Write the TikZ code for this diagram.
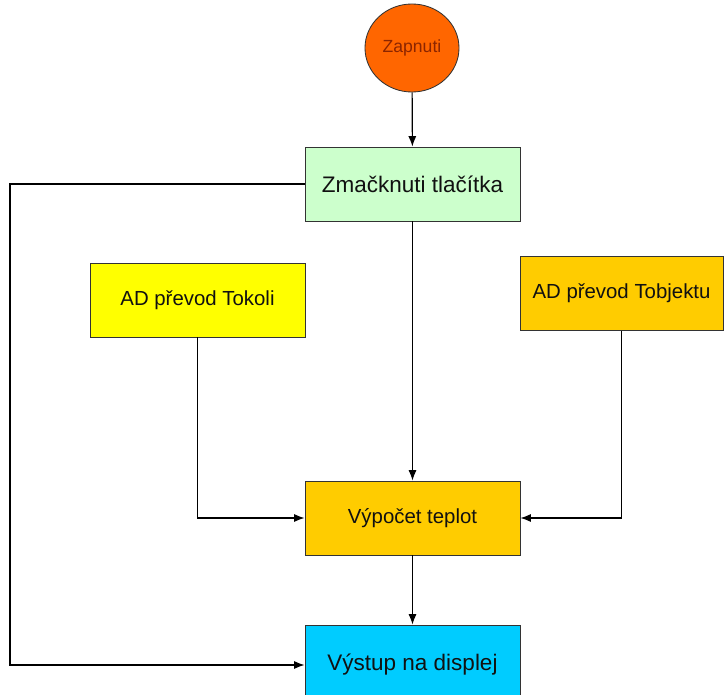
\documentclass[tikz,border=0pt]{standalone}
\usepackage{fontspec}
\setmainfont{Liberation Sans}
\usetikzlibrary{arrows.meta,shapes.geometric}
\definecolor{startred}{HTML}{FF6600}
\definecolor{starttext}{HTML}{8B2500}
\definecolor{pressgreen}{HTML}{CCFFCC}
\definecolor{adyellow}{HTML}{FFFF00}
\definecolor{calcorange}{HTML}{FFCC00}
\definecolor{displayblue}{HTML}{00CCFF}
\definecolor{textdark}{HTML}{111111}
\definecolor{linegray}{HTML}{333333}
\tikzset{
  >=Latex,
  startnode/.style={
    ellipse, draw=linegray, line width=0.6pt, fill=startred,
    minimum width=2.35cm, minimum height=2.2cm, inner sep=0pt,
    font=\fontsize{12.5}{15}\selectfont, text=starttext
  },
  block/.style={
    rectangle, draw=linegray, line width=0.6pt,
    minimum width=5.375cm, minimum height=1.85cm, align=center,
    font=\fontsize{16}{19}\selectfont, text=textdark
  },
  smallblock/.style={block, font=\fontsize{14.5}{17}\selectfont},
  arrow/.style={-{Latex[length=2.6mm,width=2mm]}, line width=0.8pt, draw=black}
}

\begin{document}
\begin{tikzpicture}[x=0.025cm,y=-0.025cm]
\useasboundingbox (0,0) rectangle (725,695);
\clip (0,0) rectangle (725,695);
\node[startnode] (start) at (412,48) {Zapnuti};
\node[block, fill=pressgreen] (press) at (412.5,184) {Zmačknuti tlačítka};
\node[smallblock, fill=adyellow] (adok) at (197.5,300) {AD převod Tokoli};
\node[smallblock, fill=calcorange, minimum width=5.075cm] (adobj) at (621.5,293.5) {AD převod Tobjektu};
\node[smallblock, fill=calcorange] (calc) at (412.5,518) {Výpočet teplot};
\node[block, fill=displayblue, minimum height=2cm] (disp) at (412.5,665) {Výstup na displej};
\coordinate (rail) at (10,0);
\draw[arrow] (start) -- (press);
\draw[arrow] (press) -- (calc);
\draw[arrow] (adok.south) |- (calc.west);
\draw[arrow] (adobj.south) |- (calc.east);
\draw[arrow] (calc) -- (disp);
\draw[arrow] (press.west) -- (press.west -| rail) |- (disp.west);
\end{tikzpicture}
\end{document}
